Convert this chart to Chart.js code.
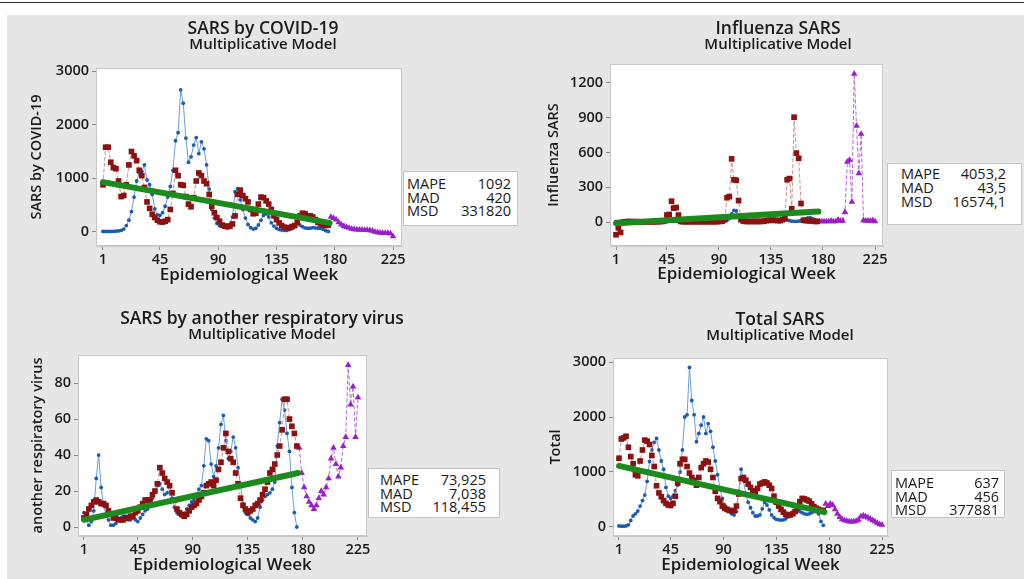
<!DOCTYPE html>
<html>
<head>
<meta charset="utf-8">
<script src="https://cdn.jsdelivr.net/npm/chart.js@4.4.1/dist/chart.umd.min.js"></script>
<style>
  body { margin: 0; width: 1024px; height: 579px; background: #fff; position: relative; overflow: hidden;
         font-family: 'Open Sans', 'Noto Sans', sans-serif; color: #1a1a1a; }
  #topline { position: absolute; left: 0; top: 2px; width: 1024px; height: 1px; background: #333; }
  #bg { position: absolute; left: 7px; top: 15px; width: 1017px; height: 564px; background: #e6e6e6; }
  canvas { position: absolute; }
  .t { position: absolute; transform: translateX(-50%); white-space: nowrap; line-height: 20px; font-weight: 600; }
  .t1 { font-size: 17.5px; }
  .t2 { font-size: 15px; }
  .stats { position: absolute; background: #fff; border: 1px solid #c4c4c4; box-sizing: border-box;
           font-size: 14.5px; line-height: 13.7px; }
  .stats div { display: flex; justify-content: space-between; }
</style>
</head>
<body>
<div id="topline"></div>
<div id="bg"></div>

<canvas id="c1" width="503" height="285" style="left:7px;top:15px"></canvas>
<canvas id="c2" width="514" height="285" style="left:510px;top:15px"></canvas>
<canvas id="c3" width="503" height="279" style="left:7px;top:300px"></canvas>
<canvas id="c4" width="514" height="279" style="left:510px;top:300px"></canvas>

<div class="t t1" style="left:263px;top:17px">SARS by COVID-19</div>
<div class="t t2" style="left:263px;top:33px">Multiplicative Model</div>
<div class="t t1" style="left:778px;top:17px">Influenza SARS</div>
<div class="t t2" style="left:778px;top:33px">Multiplicative Model</div>
<div class="t t1" style="left:262px;top:307px">SARS by another respiratory virus</div>
<div class="t t2" style="left:262px;top:323px">Multiplicative Model</div>
<div class="t t1" style="left:780px;top:308px">Total SARS</div>
<div class="t t2" style="left:780px;top:324px">Multiplicative Model</div>

<div class="stats" style="left:403px;top:171px;width:115px;height:55px;padding:5px 6px 0 3px">
  <div><span>MAPE</span><span>1092</span></div>
  <div><span>MAD</span><span>420</span></div>
  <div><span>MSD</span><span>331820</span></div>
</div>
<div class="stats" style="left:887px;top:163px;width:135px;height:62px;padding:3px 15px 0 13px;line-height:14px">
  <div><span>MAPE</span><span>4053,2</span></div>
  <div><span>MAD</span><span>43,5</span></div>
  <div><span>MSD</span><span>16574,1</span></div>
</div>
<div class="stats" style="left:368px;top:468px;width:132px;height:50px;padding:4px 13px 0 11px">
  <div><span>MAPE</span><span>73,925</span></div>
  <div><span>MAD</span><span>7,038</span></div>
  <div><span>MSD</span><span>118,455</span></div>
</div>
<div class="stats" style="left:891px;top:470px;width:114px;height:48px;padding:5px 5px 0 3px">
  <div><span>MAPE</span><span>637</span></div>
  <div><span>MAD</span><span>456</span></div>
  <div><span>MSD</span><span>377881</span></div>
</div>

<script>
// weeks (observed data sampled every 2nd week, forecasts after week 176)
const obsWeeks = [1,3,5,7,9,11,13,15,17,19,21,23,25,27,29,31,33,35,37,39,
  41,43,45,47,49,51,53,55,57,59,61,63,65,67,69,71,73,75,77,79,
  81,83,85,87,89,91,93,95,97,99,101,103,105,107,109,111,113,115,117,119,
  121,123,125,127,129,131,133,135,137,139,141,143,145,147,149,151,153,155,157,159,
  161,163,165,167,169,171,173,175];
const fcWeeks = [177,179,181,183,185,187,189,191,193,195,197,199,201,203,205,207,209,211,213,215,217,219,221,223,225];
const trendWeeks = [1, 176];
const xTickVals = [1, 45, 90, 135, 180, 225];

// SARS by COVID-19
const covidActual = [10,10,10,10,12,15,20,30,55,120,
  220,380,650,950,1100,1130,1250,970,880,700,
  430,320,310,360,480,650,850,1150,1700,1850,
  2650,2400,1750,1300,1400,1620,1760,1460,1680,1550,
  1250,800,420,260,160,120,105,90,75,140,
  280,750,810,600,420,260,140,80,55,70,
  130,220,310,340,280,170,110,70,45,35,
  30,30,45,70,110,170,130,100,75,70,
  70,80,75,70,70,50,25,10];
const covidFits = [880,1580,1580,1300,1200,1180,950,660,680,880,
  1250,1500,1420,1330,1150,1050,830,560,440,330,
  270,220,190,185,200,230,420,720,1150,1050,
  880,870,660,520,470,640,950,1100,1050,950,
  900,700,480,360,270,200,130,110,100,110,
  150,300,700,780,680,620,560,420,340,350,
  520,650,640,580,520,420,300,230,170,120,
  90,80,80,100,120,180,300,350,340,290,
  300,280,230,180,150,130,120,130];
const covidTrend = [930, 170];
const covidForecast = [280,260,230,180,140,110,90,75,60,50,45,40,40,35,35,30,20,5,-5,-15,-20,-20,-20,-30,-80];

// Influenza SARS
const fluActual = [5,5,8,10,12,15,12,10,8,5,
  3,2,2,2,2,2,2,2,2,2,
  3,4,6,8,10,8,6,4,3,2,
  2,2,2,2,2,2,2,2,2,2,
  2,2,2,2,3,4,5,8,15,30,
  70,100,95,50,20,10,6,4,3,3,
  3,3,3,3,4,5,6,6,8,10,
  12,15,18,20,18,12,8,6,6,8,
  12,20,28,35,38,30,20,10];
const fluFits = [-110,-50,-90,-5,2,3,3,3,3,3,
  2,2,2,2,2,2,2,3,3,4,
  5,10,60,65,180,120,125,60,5,3,
  3,3,3,3,3,3,3,3,3,3,
  3,3,3,3,4,5,8,20,210,220,
  545,365,360,185,20,8,5,5,5,5,
  5,5,5,5,8,12,15,15,15,15,
  12,12,20,30,365,375,115,905,595,550,
  160,15,12,12,10,8,5,5];
const fluTrend = [-10, 90];
const fluForecast = [5,5,5,5,5,10,5,5,20,10,10,85,520,535,175,1280,830,420,760,15,10,10,10,15,5];

// SARS by another respiratory virus
const otherActual = [8,4,1,3,9,27,40,22,12,7,
  4,1,1,2,4,5,6,6,4,4,
  5,4,3,5,7,9,10,13,16,20,
  23,24,21,18,19,23,16,11,8,7,
  6,7,10,12,14,15,18,21,23,34,
  49,48,35,28,34,44,57,62,48,38,
  42,50,44,33,23,13,8,7,5,4,
  3,5,11,15,17,18,19,21,25,45,
  58,71,65,52,42,22,8,0];
const otherFits = [5,7,10,12,14,15,14,13,13,12,
  9,7,5,5,4,4,4,5,5,6,
  6,8,9,11,13,15,15,15,18,20,
  24,33,30,27,25,23,19,15,10,8,
  7,6,7,9,11,12,13,15,17,19,
  23,24,25,23,26,32,36,44,52,42,
  38,36,30,24,16,12,10,8,9,10,
  12,13,15,18,21,25,30,32,35,40,
  45,54,71,71,60,56,52,45];
const otherTrend = [4, 30];
const otherForecast = [44,30,22,17,14,12,10,12,16,20,18,22,27,38,44,35,28,33,45,50,90,68,78,50,72];

// Total SARS
const totalActual = [20,15,15,20,40,120,200,240,290,380,
  480,580,830,1190,1400,1540,1610,1400,1200,1050,
  720,560,520,560,660,760,1000,1400,2000,2040,
  2900,2300,2040,1550,1700,1850,2000,1700,1880,1740,
  1450,1200,950,700,520,400,330,290,240,220,
  280,650,1050,850,600,450,350,260,200,200,
  220,330,450,400,310,220,170,140,130,125,
  130,150,190,230,270,300,300,280,260,240,
  230,240,260,280,280,240,100,30];
const totalFits = [1250,1600,1620,1650,1450,1280,1150,950,930,1200,
  1400,1580,1560,1500,1300,1100,750,620,550,480,
  430,400,390,430,560,800,1150,1230,1230,1100,
  980,900,850,760,900,1080,1150,1200,1180,1050,
  900,650,520,460,380,340,320,300,290,300,
  380,600,880,900,850,780,720,660,640,700,
  780,800,820,800,760,700,560,450,380,320,
  270,230,210,220,240,280,350,460,520,510,
  490,470,420,370,340,320,300,300];
const totalTrend = [1110, 270];
const totalForecast = [420,380,420,400,320,240,180,140,120,110,100,100,100,110,130,190,210,190,170,150,120,100,70,50,40];

const txt = '#1a1a1a';
const tickFont = { family: "'Open Sans', sans-serif", size: 14.5, weight: 600 };
const xTitleFont = { family: "'Open Sans', sans-serif", size: 17, weight: 600 };
const yTitleFont = { family: "'Open Sans', sans-serif", size: 14.5, weight: 600 };

function pts(weeks, vals) {
  return weeks.map((w, i) => ({ x: w, y: vals[i] }));
}

// white plot area with light frame
const framePlugin = {
  id: 'frame',
  beforeDraw(chart) {
    const { ctx, chartArea: a } = chart;
    ctx.save();
    ctx.fillStyle = '#fff';
    ctx.fillRect(a.left, a.top, a.right - a.left, a.bottom - a.top);
    ctx.strokeStyle = '#c8c8c8';
    ctx.lineWidth = 1;
    ctx.strokeRect(a.left + 0.5, a.top + 0.5, a.right - a.left - 1, a.bottom - a.top - 1);
    ctx.restore();
  }
};

function drawPanel(id, p) {
  new Chart(document.getElementById(id), {
    type: 'line',
    data: {
      datasets: [
        { data: pts(trendWeeks, p.trend), borderColor: '#1c8a1c', borderWidth: 6,
          borderCapStyle: 'round', pointRadius: 0, order: 0 },
        { data: pts(obsWeeks, p.fits), borderColor: '#d48f8f', borderWidth: 1, borderDash: [4, 2],
          pointStyle: 'rect', pointRadius: 4, pointBackgroundColor: '#8c1212',
          pointBorderColor: '#8c1212', pointBorderWidth: 0, order: 1 },
        { data: pts(fcWeeks, p.forecast), borderColor: '#b868d8', borderWidth: 1, borderDash: [4, 2],
          pointStyle: 'triangle', pointRadius: 3.8, pointBackgroundColor: '#9a1fc8',
          pointBorderColor: '#9a1fc8', pointBorderWidth: 0, order: 1 },
        { data: pts(obsWeeks, p.actual), borderColor: '#6b9fd9', borderWidth: 1,
          pointRadius: 1.9, pointBackgroundColor: '#1b5bb0', pointBorderWidth: 0, order: 2 }
      ]
    },
    options: {
      responsive: false,
      animation: false,
      devicePixelRatio: 1,
      layout: { padding: p.pad },
      plugins: { legend: { display: false }, tooltip: { enabled: false } },
      scales: {
        x: {
          type: 'linear', min: p.xMin, max: p.xMax,
          afterBuildTicks: s => { s.ticks = xTickVals.map(v => ({ value: v })); },
          afterFit: s => { s.height = p.xH; },
          ticks: { font: tickFont, color: txt, padding: 1, autoSkip: false, maxRotation: 0, callback: v => String(v) },
          grid: { drawOnChartArea: false, drawTicks: true, tickLength: 4, color: '#8a8a8a' },
          border: { color: '#c8c8c8' },
          title: { display: true, text: 'Epidemiological Week', font: xTitleFont, color: txt, padding: 0 }
        },
        y: {
          min: p.yMin, max: p.yMax,
          afterBuildTicks: s => { s.ticks = p.yTicks.map(v => ({ value: v })); },
          afterFit: s => { s.width = p.yW; },
          ticks: { font: tickFont, color: txt, padding: 3, callback: v => String(v) },
          grid: { drawOnChartArea: false, drawTicks: true, tickLength: 4, color: '#8a8a8a' },
          border: { color: '#c8c8c8' },
          title: { display: true, text: p.yTitle, font: yTitleFont, color: txt, padding: 0 }
        }
      }
    },
    plugins: [framePlugin]
  });
}

drawPanel('c1', {
  actual: covidActual, fits: covidFits, trend: covidTrend, forecast: covidForecast,
  yTitle: 'SARS by COVID-19', yTicks: [0, 1000, 2000, 3000], yMin: -261, yMax: 3056,
  xMin: -4.4, xMax: 231.9, yW: 68, xH: 39.6,
  pad: { left: 21, top: 53, right: 108, bottom: 14.4 }
});
drawPanel('c2', {
  actual: fluActual, fits: fluFits, trend: fluTrend, forecast: fluForecast,
  yTitle: 'Influenza SARS', yTicks: [0, 300, 600, 900, 1200], yMin: -207, yMax: 1364,
  xMin: -4.2, xMax: 231.9, yW: 65, xH: 38.6,
  pad: { left: 35, top: 49, right: 141, bottom: 15.4 }
});
drawPanel('c3', {
  actual: otherActual, fits: otherFits, trend: otherTrend, forecast: otherForecast,
  yTitle: 'another respiratory virus', yTicks: [0, 20, 40, 60, 80], yMin: -5, yMax: 95.6,
  xMin: -3.9, xMax: 232.4, yW: 49, xH: 39.3,
  pad: { left: 22, top: 55, right: 143, bottom: 3.7 }
});
drawPanel('c4', {
  actual: totalActual, fits: totalFits, trend: totalTrend, forecast: totalForecast,
  yTitle: 'Total', yTicks: [0, 1000, 2000, 3000], yMin: -164, yMax: 3073,
  xMin: -4.1, xMax: 230.1, yW: 66, xH: 39.3,
  pad: { left: 37, top: 58, right: 136, bottom: 3.7 }
});
</script>
</body>
</html>
